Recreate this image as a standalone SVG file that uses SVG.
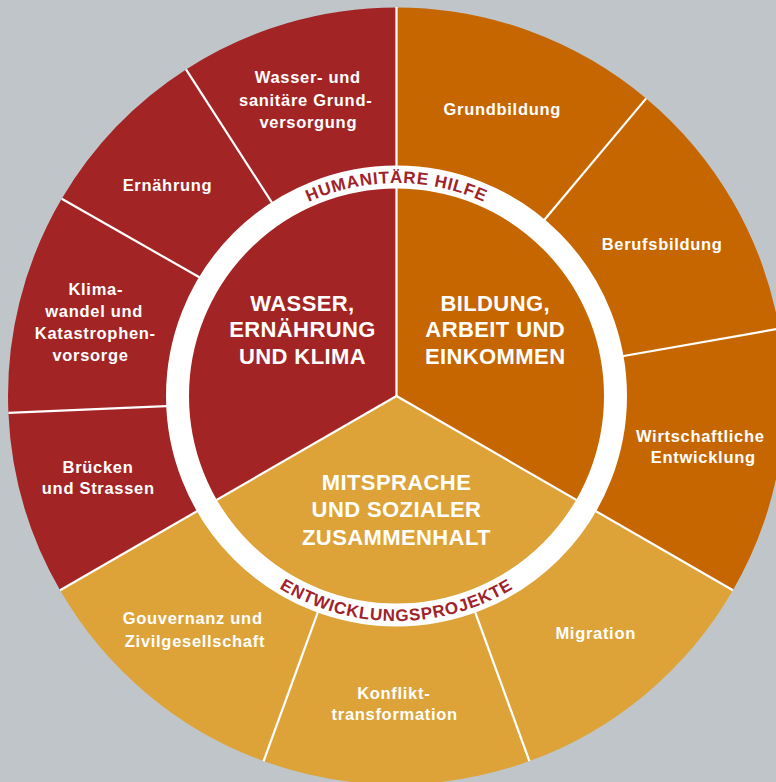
<svg xmlns="http://www.w3.org/2000/svg" width="776" height="782" viewBox="0 0 776 782">
<defs>
<style>
.red{fill:#A32424}
.ora{fill:#C66600}
.gold{fill:#DDA339}
.div{stroke:#FFFFFF;stroke-width:2.2;fill:none}
.lbl{fill:#FFFFFF;font-family:"Liberation Sans",Arial,sans-serif;font-weight:bold;font-size:16.5px;letter-spacing:0.7px;text-anchor:middle}
.main{fill:#FFFFFF;font-family:"Liberation Sans",Arial,sans-serif;font-weight:bold;font-size:22px;letter-spacing:0.4px;text-anchor:middle}
.ring{fill:#A0222A;font-family:"Liberation Sans",Arial,sans-serif;font-weight:bold;font-size:17px;letter-spacing:0.8px;text-anchor:middle}
</style>
<path id="arcTop" d="M 212.1 289.5 A 212.9 212.9 0 0 1 580.9 289.5"/>
<path id="arcBot" d="M 201.6 508.6 A 225.1 225.1 0 0 0 591.4 508.6"/>
</defs>
<rect x="0" y="0" width="776" height="782" fill="#C0C5C9"/>

<g id="seg-grundbildung">
<path class="ora" d="M 396.5 7.5 A 388.5 388.5 0 0 1 646.2 98.4 L 537.3 228.2 A 219 219 0 0 0 396.5 177 Z"/>
<text class="lbl" x="502.3" y="115">Grundbildung</text>
</g>
<g id="seg-berufsbildung">
<path class="ora" d="M 646.2 98.4 A 388.5 388.5 0 0 1 779.1 328.6 L 612.2 358 A 219 219 0 0 0 537.3 228.2 Z"/>
<text class="lbl" x="662.2" y="250">Berufsbildung</text>
</g>
<g id="seg-wirtschaft">
<path class="ora" d="M 779.1 328.6 A 388.5 388.5 0 0 1 732.9 590.3 L 586.2 505.5 A 219 219 0 0 0 612.2 358 Z"/>
<text class="lbl" x="700.3" y="441.7">Wirtschaftliche</text>
<text class="lbl" x="703.3" y="463.3">Entwicklung</text>
</g>
<g id="seg-migration">
<path class="gold" d="M 732.9 590.3 A 388.5 388.5 0 0 1 529.4 761.1 L 471.4 601.8 A 219 219 0 0 0 586.2 505.5 Z"/>
<text class="lbl" x="595.7" y="639.3">Migration</text>
</g>
<g id="seg-konflikt">
<path class="gold" d="M 529.4 761.1 A 388.5 388.5 0 0 1 263.6 761.1 L 321.6 601.8 A 219 219 0 0 0 471.4 601.8 Z"/>
<text class="lbl" x="393.8" y="699.3">Konflikt-</text>
<text class="lbl" x="394.7" y="720">transformation</text>
</g>
<g id="seg-gouvernanz">
<path class="gold" d="M 263.6 761.1 A 388.5 388.5 0 0 1 60.1 590.3 L 206.8 505.5 A 219 219 0 0 0 321.6 601.8 Z"/>
<text class="lbl" x="192.7" y="624.3">Gouvernanz und</text>
<text class="lbl" x="195" y="646.7">Zivilgesellschaft</text>
</g>
<g id="seg-bruecken">
<path class="red" d="M 60.1 590.3 A 388.5 388.5 0 0 1 8.4 412.9 L 177.7 405.6 A 219 219 0 0 0 206.8 505.5 Z"/>
<text class="lbl" x="98" y="472.7">Brücken</text>
<text class="lbl" x="98.3" y="494.3">und Strassen</text>
</g>
<g id="seg-klima">
<path class="red" d="M 8.4 412.9 A 388.5 388.5 0 0 1 61.7 198.7 L 209 282.8 A 219 219 0 0 0 177.7 405.6 Z"/>
<text class="lbl" x="95.8" y="295">Klima-</text>
<text class="lbl" x="94.2" y="317">wandel und</text>
<text class="lbl" x="95.3" y="339">Katastrophen-</text>
<text class="lbl" x="90.5" y="361">vorsorge</text>
</g>
<g id="seg-ernaehrung">
<path class="red" d="M 61.7 198.7 A 388.5 388.5 0 0 1 186 69.4 L 277.9 211.9 A 219 219 0 0 0 209 282.8 Z"/>
<text class="lbl" x="167.5" y="190.5">Ernährung</text>
</g>
<g id="seg-wasser">
<path class="red" d="M 186 69.4 A 388.5 388.5 0 0 1 396.5 7.5 L 396.5 177 A 219 219 0 0 0 277.9 211.9 Z"/>
<text class="lbl" x="307.8" y="83.3">Wasser- und</text>
<text class="lbl" x="305.7" y="106">sanitäre Grund-</text>
<text class="lbl" x="308.3" y="127.7">versorgung</text>
</g>

<g id="core-wasser">
<path class="red" d="M 396.5 396 L 206.8 505.5 A 219 219 0 0 1 396.5 177 Z"/>
</g>
<g id="core-bildung">
<path class="ora" d="M 396.5 396 L 396.5 177 A 219 219 0 0 1 586.2 505.5 Z"/>
</g>
<g id="core-mitsprache">
<path class="gold" d="M 396.5 396 L 586.2 505.5 A 219 219 0 0 1 206.8 505.5 Z"/>
</g>

<g id="connectors">
<line class="div" x1="396.5" y1="396" x2="396.5" y2="7"/>
<line class="div" x1="396.5" y1="396" x2="732.9" y2="590.3"/>
<line class="div" x1="396.5" y1="396" x2="60.1" y2="590.3"/>
<line class="div" x1="537.3" y1="228.2" x2="646.2" y2="98.4"/>
<line class="div" x1="612.2" y1="358" x2="779.1" y2="328.6"/>
<line class="div" x1="471.4" y1="601.8" x2="529.4" y2="761.1"/>
<line class="div" x1="321.6" y1="601.8" x2="263.6" y2="761.1"/>
<line class="div" x1="177.7" y1="405.6" x2="8.4" y2="412.9"/>
<line class="div" x1="209" y1="282.8" x2="61.7" y2="198.7"/>
<line class="div" x1="277.9" y1="211.9" x2="186" y2="69.4"/>
</g>

<g id="ring">
<circle cx="396.5" cy="396" r="219" fill="none" stroke="#FFFFFF" stroke-width="23"/>
<text class="ring"><textPath href="#arcTop" startOffset="50%">HUMANITÄRE HILFE</textPath></text>
<text class="ring"><textPath href="#arcBot" startOffset="50%">ENTWICKLUNGSPROJEKTE</textPath></text>
</g>

<g id="label-wasser">
<text class="main" x="302.5" y="310.7">WASSER,</text>
<text class="main" x="302.5" y="337.3">ERNÄHRUNG</text>
<text class="main" x="302.5" y="364">UND KLIMA</text>
</g>
<g id="label-bildung">
<text class="main" x="495.2" y="310.7">BILDUNG,</text>
<text class="main" x="495.2" y="337.3">ARBEIT UND</text>
<text class="main" x="495.2" y="364">EINKOMMEN</text>
</g>
<g id="label-mitsprache">
<text class="main" x="396.5" y="490">MITSPRACHE</text>
<text class="main" x="396.5" y="517.3">UND SOZIALER</text>
<text class="main" x="396.5" y="545">ZUSAMMENHALT</text>
</g>
</svg>
